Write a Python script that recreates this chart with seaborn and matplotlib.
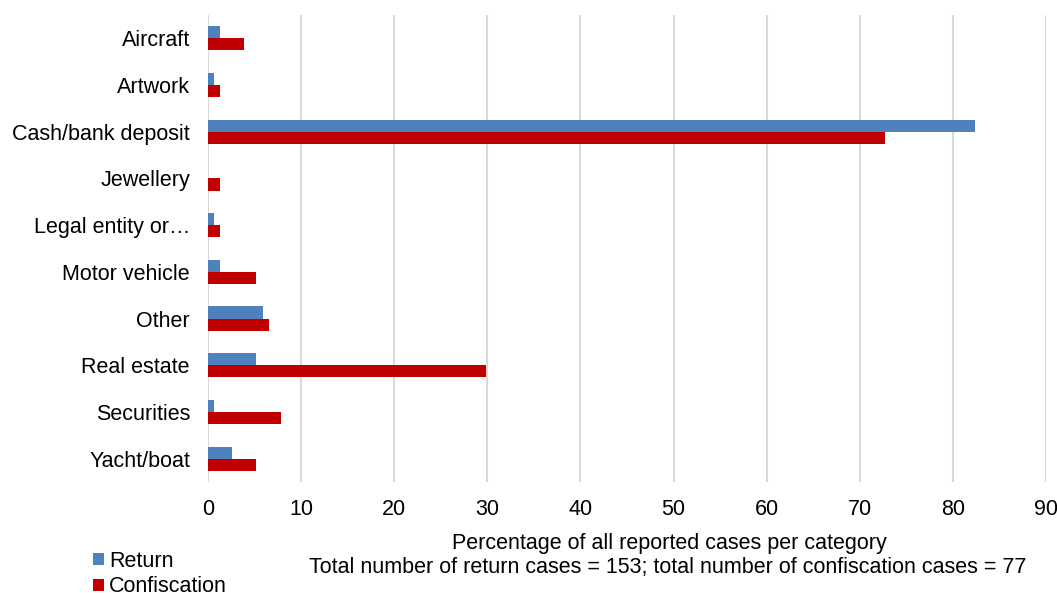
import matplotlib
matplotlib.use("Agg")
import matplotlib.pyplot as plt
import pandas as pd
import seaborn as sns

categories = [
    "Aircraft",
    "Artwork",
    "Cash/bank deposit",
    "Jewellery",
    "Legal entity or\u2026",
    "Motor vehicle",
    "Other",
    "Real estate",
    "Securities",
    "Yacht/boat",
]
return_pct = [1.3, 0.65, 82.4, 0.0, 0.65, 1.3, 5.9, 5.2, 0.65, 2.6]
confiscation_pct = [3.9, 1.3, 72.7, 1.3, 1.3, 5.2, 6.5, 29.9, 7.8, 5.2]
series = ["Return", "Confiscation"]
x_ticks = [0, 10, 20, 30, 40, 50, 60, 70, 80, 90]

sns.set_style("white")
plt.rcParams["font.family"] = ["Liberation Sans", "DejaVu Sans"]
plt.rcParams["text.color"] = "black"

df = pd.DataFrame({
    "category": categories * 2,
    "series": [series[0]] * len(categories) + [series[1]] * len(categories),
    "pct": return_pct + confiscation_pct,
})

W, H = 1057, 593
fig = plt.figure(figsize=(W / 100, H / 100), dpi=100)
ax = fig.add_axes([208 / W, 1 - 482 / H, (1046 - 208) / W, 467 / H])

sns.barplot(
    data=df, y="category", x="pct", hue="series", orient="h",
    palette={"Return": "#4F81BD", "Confiscation": "#C00000"},
    width=0.52, ax=ax, legend=True, saturation=1, linewidth=0,
)

ax.set_xlim(0, 90)
ax.set_xticks(x_ticks)
ax.xaxis.grid(True, color="#d9d9d9", linewidth=1.5)
ax.set_axisbelow(True)
for s in ax.spines.values():
    s.set_visible(False)
ax.tick_params(axis="both", length=0, labelsize=15.5, colors="black")
ax.tick_params(axis="y", pad=13)
ax.tick_params(axis="x", pad=12)
ax.set_xlabel("")
ax.set_ylabel("")

handles, labels = ax.get_legend_handles_labels()
ax.legend_.remove()
fig.legend(handles, labels, loc="upper left", bbox_to_anchor=(93 / W, 1 - 551 / H),
           frameon=False, fontsize=15.5, handlelength=0.5, handleheight=0.5,
           handletextpad=0.25, labelspacing=0.2, borderaxespad=0, borderpad=0)

fig.text(669 / W, 1 - 543 / H, "Percentage of all reported cases per category",
         ha="center", va="center", fontsize=15.5)
fig.text(668 / W, 1 - 568 / H,
         "Total number of return cases = 153; total number of confiscation cases = 77",
         ha="center", va="center", fontsize=15.5)

fig.savefig("out.png", dpi=100)
